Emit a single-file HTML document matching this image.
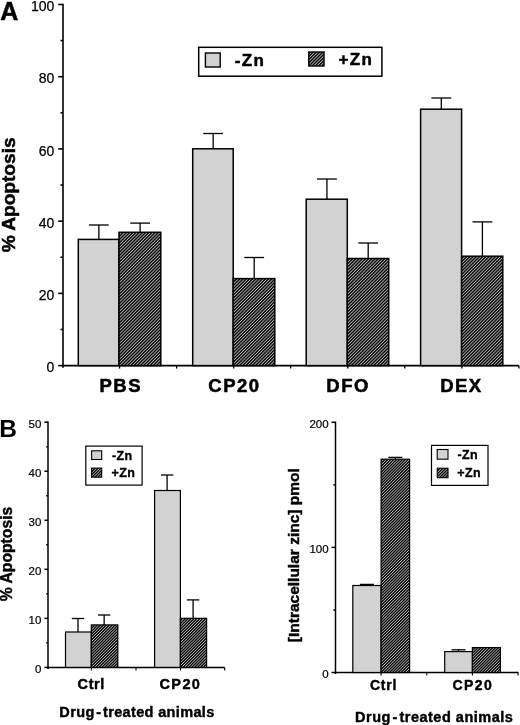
<!DOCTYPE html>
<html><head><meta charset="utf-8"><style>
html,body{margin:0;padding:0;background:#fff;}
svg{display:block;will-change:transform;}
text{font-family:"Liberation Sans",sans-serif;fill:#000;}
</style></head><body>
<svg width="520" height="725" viewBox="0 0 520 725">
<defs>
<pattern id="hA" patternUnits="userSpaceOnUse" width="2.26" height="10" patternTransform="rotate(45)">
<rect width="2.26" height="10" fill="#b8b8b8"/><rect width="1.35" height="10" fill="#000"/></pattern>
<pattern id="hB" patternUnits="userSpaceOnUse" width="2.05" height="10" patternTransform="rotate(45)">
<rect width="2.05" height="10" fill="#b8b8b8"/><rect width="1.25" height="10" fill="#000"/></pattern>
</defs>
<rect width="520" height="725" fill="#fff"/>
<line x1="63" y1="3.75" x2="63" y2="367.8" stroke="#000" stroke-width="1.6"/>
<line x1="58.2" y1="365.6" x2="63" y2="365.6" stroke="#000" stroke-width="1.6"/>
<text x="54.4" y="372.3" font-size="14" font-weight="normal" text-anchor="end" stroke="#000" stroke-width="0.25">0</text>
<line x1="60.5" y1="329.49" x2="63" y2="329.49" stroke="#000" stroke-width="1.6"/>
<line x1="58.2" y1="293.38" x2="63" y2="293.38" stroke="#000" stroke-width="1.6"/>
<text x="54.4" y="300.08" font-size="14" font-weight="normal" text-anchor="end" stroke="#000" stroke-width="0.25">20</text>
<line x1="60.5" y1="257.27" x2="63" y2="257.27" stroke="#000" stroke-width="1.6"/>
<line x1="58.2" y1="221.16" x2="63" y2="221.16" stroke="#000" stroke-width="1.6"/>
<text x="54.4" y="227.86" font-size="14" font-weight="normal" text-anchor="end" stroke="#000" stroke-width="0.25">40</text>
<line x1="60.5" y1="185.05" x2="63" y2="185.05" stroke="#000" stroke-width="1.6"/>
<line x1="58.2" y1="148.94" x2="63" y2="148.94" stroke="#000" stroke-width="1.6"/>
<text x="54.4" y="155.64" font-size="14" font-weight="normal" text-anchor="end" stroke="#000" stroke-width="0.25">60</text>
<line x1="60.5" y1="112.83" x2="63" y2="112.83" stroke="#000" stroke-width="1.6"/>
<line x1="58.2" y1="76.72" x2="63" y2="76.72" stroke="#000" stroke-width="1.6"/>
<text x="54.4" y="83.42" font-size="14" font-weight="normal" text-anchor="end" stroke="#000" stroke-width="0.25">80</text>
<line x1="60.5" y1="40.61" x2="63" y2="40.61" stroke="#000" stroke-width="1.6"/>
<line x1="58.2" y1="4.5" x2="63" y2="4.5" stroke="#000" stroke-width="1.6"/>
<text x="54.4" y="11.2" font-size="14" font-weight="normal" text-anchor="end" stroke="#000" stroke-width="0.25">100</text>
<line x1="62.2" y1="365.6" x2="518.9" y2="365.6" stroke="#000" stroke-width="1.6"/>
<line x1="119.55" y1="365.6" x2="119.55" y2="368.6" stroke="#000" stroke-width="1.3"/>
<line x1="176.6" y1="365.6" x2="176.6" y2="368.6" stroke="#000" stroke-width="1.3"/>
<line x1="233.65" y1="365.6" x2="233.65" y2="368.6" stroke="#000" stroke-width="1.3"/>
<line x1="290.7" y1="365.6" x2="290.7" y2="368.6" stroke="#000" stroke-width="1.3"/>
<line x1="347.75" y1="365.6" x2="347.75" y2="368.6" stroke="#000" stroke-width="1.3"/>
<line x1="404.8" y1="365.6" x2="404.8" y2="368.6" stroke="#000" stroke-width="1.3"/>
<line x1="461.85" y1="365.6" x2="461.85" y2="368.6" stroke="#000" stroke-width="1.3"/>
<line x1="518.9" y1="365.6" x2="518.9" y2="368.6" stroke="#000" stroke-width="1.3"/>
<line x1="98.85" y1="239.4" x2="98.85" y2="225" stroke="#000" stroke-width="1.3"/>
<line x1="88.95" y1="225" x2="108.75" y2="225" stroke="#000" stroke-width="1.3"/>
<line x1="140.1" y1="232.3" x2="140.1" y2="223.1" stroke="#000" stroke-width="1.3"/>
<line x1="130.2" y1="223.1" x2="150" y2="223.1" stroke="#000" stroke-width="1.3"/>
<rect x="78.3" y="239.4" width="40.7" height="126.2" fill="#d2d2d2" stroke="#000" stroke-width="1.5"/>
<rect x="119" y="232.3" width="41.8" height="133.3" fill="url(#hA)" stroke="#000" stroke-width="1.5"/>
<text x="120.8" y="392" font-size="18.5" font-weight="bold" text-anchor="middle" letter-spacing="1.5" stroke="#000" stroke-width="0.52">PBS</text>
<line x1="213.15" y1="148.8" x2="213.15" y2="133.5" stroke="#000" stroke-width="1.3"/>
<line x1="203.25" y1="133.5" x2="223.05" y2="133.5" stroke="#000" stroke-width="1.3"/>
<line x1="254.2" y1="278.6" x2="254.2" y2="257.5" stroke="#000" stroke-width="1.3"/>
<line x1="244.3" y1="257.5" x2="264.1" y2="257.5" stroke="#000" stroke-width="1.3"/>
<rect x="192.7" y="148.8" width="40.5" height="216.8" fill="#d2d2d2" stroke="#000" stroke-width="1.5"/>
<rect x="233.2" y="278.6" width="41.6" height="87" fill="url(#hA)" stroke="#000" stroke-width="1.5"/>
<text x="234.5" y="392" font-size="18.5" font-weight="bold" text-anchor="middle" letter-spacing="1.5" stroke="#000" stroke-width="0.52">CP20</text>
<line x1="326.95" y1="199.2" x2="326.95" y2="179" stroke="#000" stroke-width="1.3"/>
<line x1="317.05" y1="179" x2="336.85" y2="179" stroke="#000" stroke-width="1.3"/>
<line x1="368.2" y1="258.5" x2="368.2" y2="243" stroke="#000" stroke-width="1.3"/>
<line x1="358.3" y1="243" x2="378.1" y2="243" stroke="#000" stroke-width="1.3"/>
<rect x="306.2" y="199.2" width="41.1" height="166.4" fill="#d2d2d2" stroke="#000" stroke-width="1.5"/>
<rect x="347.3" y="258.5" width="41.4" height="107.1" fill="url(#hA)" stroke="#000" stroke-width="1.5"/>
<text x="348.1" y="392" font-size="18.5" font-weight="bold" text-anchor="middle" letter-spacing="1.5" stroke="#000" stroke-width="0.52">DFO</text>
<line x1="441.3" y1="109.2" x2="441.3" y2="98" stroke="#000" stroke-width="1.3"/>
<line x1="431.4" y1="98" x2="451.2" y2="98" stroke="#000" stroke-width="1.3"/>
<line x1="482.4" y1="256.2" x2="482.4" y2="221.9" stroke="#000" stroke-width="1.3"/>
<line x1="472.5" y1="221.9" x2="492.3" y2="221.9" stroke="#000" stroke-width="1.3"/>
<rect x="420.6" y="109.2" width="41" height="256.4" fill="#d2d2d2" stroke="#000" stroke-width="1.5"/>
<rect x="461.6" y="256.2" width="41.2" height="109.4" fill="url(#hA)" stroke="#000" stroke-width="1.5"/>
<text x="461.4" y="392" font-size="18.5" font-weight="bold" text-anchor="middle" letter-spacing="1.5" stroke="#000" stroke-width="0.52">DEX</text>
<text x="15" y="194.9" font-size="19.1" font-weight="bold" text-anchor="middle" transform="rotate(-90 15 194.9)" stroke="#000" stroke-width="0.53">% Apoptosis</text>
<text x="0.2" y="19.7" font-size="25" font-weight="bold" text-anchor="start" stroke="#000" stroke-width="0.50">A</text>
<rect x="198.7" y="47.3" width="183.2" height="28.9" fill="#fff" stroke="#000" stroke-width="1.5"/>
<rect x="205.4" y="53" width="14.8" height="14" fill="#d2d2d2" stroke="#000" stroke-width="1.4"/>
<rect x="308.8" y="52" width="15.2" height="14" fill="url(#hA)" stroke="#000" stroke-width="1.4"/>
<text x="234.8" y="66.3" font-size="17" font-weight="bold" text-anchor="start" letter-spacing="1.3" stroke="#000" stroke-width="0.48">-Zn</text>
<text x="338.5" y="65.4" font-size="17" font-weight="bold" text-anchor="start" letter-spacing="1.3" stroke="#000" stroke-width="0.48">+Zn</text>
<line x1="48" y1="421.5" x2="48" y2="669" stroke="#000" stroke-width="1.5"/>
<line x1="44.4" y1="667.4" x2="48" y2="667.4" stroke="#000" stroke-width="1.5"/>
<text x="41.3" y="672.9" font-size="11.5" font-weight="normal" text-anchor="end" stroke="#000" stroke-width="0.21">0</text>
<line x1="46.2" y1="642.88" x2="48" y2="642.88" stroke="#000" stroke-width="1.4"/>
<line x1="44.4" y1="618.36" x2="48" y2="618.36" stroke="#000" stroke-width="1.5"/>
<text x="41.3" y="623.86" font-size="11.5" font-weight="normal" text-anchor="end" stroke="#000" stroke-width="0.21">10</text>
<line x1="46.2" y1="593.84" x2="48" y2="593.84" stroke="#000" stroke-width="1.4"/>
<line x1="44.4" y1="569.32" x2="48" y2="569.32" stroke="#000" stroke-width="1.5"/>
<text x="41.3" y="574.82" font-size="11.5" font-weight="normal" text-anchor="end" stroke="#000" stroke-width="0.21">20</text>
<line x1="46.2" y1="544.8" x2="48" y2="544.8" stroke="#000" stroke-width="1.4"/>
<line x1="44.4" y1="520.28" x2="48" y2="520.28" stroke="#000" stroke-width="1.5"/>
<text x="41.3" y="525.78" font-size="11.5" font-weight="normal" text-anchor="end" stroke="#000" stroke-width="0.21">30</text>
<line x1="46.2" y1="495.76" x2="48" y2="495.76" stroke="#000" stroke-width="1.4"/>
<line x1="44.4" y1="471.24" x2="48" y2="471.24" stroke="#000" stroke-width="1.5"/>
<text x="41.3" y="476.74" font-size="11.5" font-weight="normal" text-anchor="end" stroke="#000" stroke-width="0.21">40</text>
<line x1="46.2" y1="446.72" x2="48" y2="446.72" stroke="#000" stroke-width="1.4"/>
<line x1="44.4" y1="422.2" x2="48" y2="422.2" stroke="#000" stroke-width="1.5"/>
<text x="41.3" y="427.7" font-size="11.5" font-weight="normal" text-anchor="end" stroke="#000" stroke-width="0.21">50</text>
<line x1="47.3" y1="667.4" x2="224.7" y2="667.4" stroke="#000" stroke-width="1.5"/>
<line x1="91.4" y1="667.4" x2="91.4" y2="670.5" stroke="#000" stroke-width="1.1"/>
<line x1="136" y1="667.4" x2="136" y2="670.5" stroke="#000" stroke-width="1.1"/>
<line x1="180.5" y1="667.4" x2="180.5" y2="670.5" stroke="#000" stroke-width="1.1"/>
<line x1="224.7" y1="667.4" x2="224.7" y2="670.5" stroke="#000" stroke-width="1.1"/>
<line x1="78" y1="632" x2="78" y2="618.5" stroke="#000" stroke-width="1.3"/>
<line x1="71.8" y1="618.5" x2="84.2" y2="618.5" stroke="#000" stroke-width="1.3"/>
<line x1="104.15" y1="624.9" x2="104.15" y2="615" stroke="#000" stroke-width="1.3"/>
<line x1="97.95" y1="615" x2="110.35" y2="615" stroke="#000" stroke-width="1.3"/>
<rect x="65.5" y="632" width="25.8" height="35.4" fill="#d2d2d2" stroke="#000" stroke-width="1.2"/>
<rect x="91.3" y="624.9" width="26.5" height="42.5" fill="url(#hB)" stroke="#000" stroke-width="1.2"/>
<text x="91.3" y="689.2" font-size="14.5" font-weight="bold" text-anchor="middle" letter-spacing="0.6" stroke="#000" stroke-width="0.41">Ctrl</text>
<line x1="167.1" y1="490.5" x2="167.1" y2="475" stroke="#000" stroke-width="1.3"/>
<line x1="160.9" y1="475" x2="173.3" y2="475" stroke="#000" stroke-width="1.3"/>
<line x1="193.1" y1="618.3" x2="193.1" y2="599.9" stroke="#000" stroke-width="1.3"/>
<line x1="186.9" y1="599.9" x2="199.3" y2="599.9" stroke="#000" stroke-width="1.3"/>
<rect x="154.6" y="490.5" width="25.8" height="176.9" fill="#d2d2d2" stroke="#000" stroke-width="1.2"/>
<rect x="180.4" y="618.3" width="26.2" height="49.1" fill="url(#hB)" stroke="#000" stroke-width="1.2"/>
<text x="180.4" y="689.2" font-size="14.5" font-weight="bold" text-anchor="middle" letter-spacing="1.4" stroke="#000" stroke-width="0.41">CP20</text>
<text x="11.8" y="554" font-size="15.7" font-weight="bold" text-anchor="middle" transform="rotate(-90 11.8 554)" stroke="#000" stroke-width="0.44">% Apoptosis</text>
<text x="-0.7" y="436.5" font-size="24.5" font-weight="bold" text-anchor="start" stroke="#000" stroke-width="0.01">B</text>
<rect x="85.8" y="446.1" width="56.3" height="39" fill="#fff" stroke="#000" stroke-width="1.2"/>
<rect x="91.6" y="450.8" width="10.1" height="8.7" fill="#d2d2d2" stroke="#000" stroke-width="1.1"/>
<rect x="91.6" y="468.1" width="10.1" height="9.1" fill="url(#hB)" stroke="#000" stroke-width="1.1"/>
<text x="112" y="459.5" font-size="12.5" font-weight="bold" text-anchor="start" letter-spacing="0.4" stroke="#000" stroke-width="0.35">-Zn</text>
<text x="111.6" y="477.2" font-size="12.5" font-weight="bold" text-anchor="start" letter-spacing="0.4" stroke="#000" stroke-width="0.35">+Zn</text>
<text x="137" y="716.5" font-size="14.5" font-weight="bold" text-anchor="middle" letter-spacing="0.35" stroke="#000" stroke-width="0.41">Drug<tspan dx="1.6">-</tspan><tspan dx="1.6">treated animals</tspan></text>
<line x1="335.5" y1="421.6" x2="335.5" y2="674" stroke="#000" stroke-width="1.5"/>
<line x1="331.5" y1="672.5" x2="335.5" y2="672.5" stroke="#000" stroke-width="1.5"/>
<text x="328.6" y="678" font-size="11.5" font-weight="normal" text-anchor="end" stroke="#000" stroke-width="0.21">0</text>
<line x1="333.3" y1="609.95" x2="335.5" y2="609.95" stroke="#000" stroke-width="1.4"/>
<line x1="331.5" y1="547.4" x2="335.5" y2="547.4" stroke="#000" stroke-width="1.5"/>
<text x="328.6" y="552.9" font-size="11.5" font-weight="normal" text-anchor="end" stroke="#000" stroke-width="0.21">100</text>
<line x1="333.3" y1="484.85" x2="335.5" y2="484.85" stroke="#000" stroke-width="1.4"/>
<line x1="331.5" y1="422.3" x2="335.5" y2="422.3" stroke="#000" stroke-width="1.5"/>
<text x="328.6" y="427.8" font-size="11.5" font-weight="normal" text-anchor="end" stroke="#000" stroke-width="0.21">200</text>
<line x1="334.8" y1="672.5" x2="518.5" y2="672.5" stroke="#000" stroke-width="1.5"/>
<line x1="381.1" y1="672.5" x2="381.1" y2="675.5" stroke="#000" stroke-width="1.1"/>
<line x1="426.8" y1="672.5" x2="426.8" y2="675.5" stroke="#000" stroke-width="1.1"/>
<line x1="472.4" y1="672.5" x2="472.4" y2="675.5" stroke="#000" stroke-width="1.1"/>
<line x1="518" y1="672.5" x2="518" y2="675.5" stroke="#000" stroke-width="1.1"/>
<line x1="366.95" y1="585.5" x2="366.95" y2="584.4" stroke="#000" stroke-width="1.3"/>
<line x1="359.95" y1="584.4" x2="373.95" y2="584.4" stroke="#000" stroke-width="1.3"/>
<line x1="395.35" y1="459.2" x2="395.35" y2="457.4" stroke="#000" stroke-width="1.3"/>
<line x1="388.35" y1="457.4" x2="402.35" y2="457.4" stroke="#000" stroke-width="1.3"/>
<rect x="352.8" y="585.5" width="28.3" height="87" fill="#d2d2d2" stroke="#000" stroke-width="1.2"/>
<rect x="381.1" y="459.2" width="28.5" height="213.3" fill="url(#hB)" stroke="#000" stroke-width="1.2"/>
<text x="383.6" y="690.4" font-size="14" font-weight="bold" text-anchor="middle" letter-spacing="0.8" stroke="#000" stroke-width="0.39">Ctrl</text>
<line x1="458.55" y1="651.6" x2="458.55" y2="649.8" stroke="#000" stroke-width="1.3"/>
<line x1="451.55" y1="649.8" x2="465.55" y2="649.8" stroke="#000" stroke-width="1.3"/>
<rect x="444.7" y="651.6" width="27.7" height="20.9" fill="#d2d2d2" stroke="#000" stroke-width="1.2"/>
<rect x="472.4" y="647.6" width="28" height="24.9" fill="url(#hB)" stroke="#000" stroke-width="1.2"/>
<text x="472.9" y="690.4" font-size="14" font-weight="bold" text-anchor="middle" letter-spacing="1.5" stroke="#000" stroke-width="0.39">CP20</text>
<text x="299.5" y="555.2" font-size="15.5" font-weight="bold" text-anchor="middle" transform="rotate(-90 299.5 555.2)" stroke="#000" stroke-width="0.43">[Intracellular zinc] pmol</text>
<rect x="431.5" y="445.4" width="56.5" height="40" fill="#fff" stroke="#000" stroke-width="1.2"/>
<rect x="437.2" y="449.5" width="10.8" height="9.7" fill="#d2d2d2" stroke="#000" stroke-width="1.1"/>
<rect x="437.2" y="468.2" width="10.8" height="9.5" fill="url(#hB)" stroke="#000" stroke-width="1.1"/>
<text x="457.5" y="458.8" font-size="12.5" font-weight="bold" text-anchor="start" letter-spacing="0.4" stroke="#000" stroke-width="0.35">-Zn</text>
<text x="457.3" y="477.4" font-size="12.5" font-weight="bold" text-anchor="start" letter-spacing="0.4" stroke="#000" stroke-width="0.35">+Zn</text>
<text x="434.2" y="721.6" font-size="14.5" font-weight="bold" text-anchor="middle" letter-spacing="0.5" stroke="#000" stroke-width="0.41">Drug<tspan dx="1.6">-</tspan><tspan dx="1.6">treated animals</tspan></text>
</svg>
</body></html>
